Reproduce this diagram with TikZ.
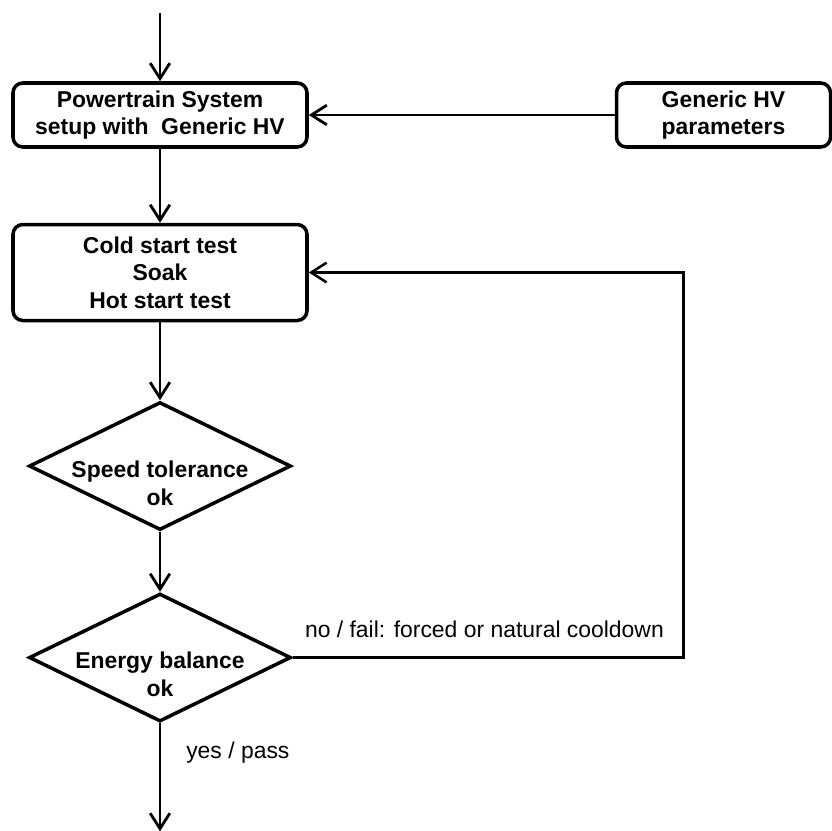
\documentclass[tikz,border=0pt]{standalone}
\usepackage{fontspec}
\setmainfont{Liberation Sans}
\usetikzlibrary{arrows.meta,shapes.geometric,positioning}

\newcommand{\dropline}{\rule{0pt}{36pt}}

\begin{document}
\begin{tikzpicture}[
    box/.style={draw, line width=2.5pt, rounded corners=7pt, minimum width=7.35cm,
                minimum height=1.6cm, align=center, font=\fontsize{16.3}{19.5}\selectfont\bfseries},
    check/.style={draw, diamond, line width=2.5pt, inner xsep=-1.5cm, inner ysep=-1.2cm,
                minimum width=6.55cm, minimum height=3.2cm, align=center,
                font=\fontsize{16.3}{20}\selectfont\bfseries},
    arr/.style={-{Straight Barb[length=11pt, width=14pt]}, line width=2pt},
    lbl/.style={inner sep=0pt, font=\fontsize{16.3}{19}\selectfont}
]
\useasboundingbox (0,0) rectangle (20.8,-20.775);

\node[box] (setup) at (4.0,-2.875) {Powertrain System\\setup with~ Generic HV};
\node[box, minimum width=5.35cm, right=7.65cm of setup] (params) {Generic HV\\parameters};
\node[box, minimum height=2.4cm, below=1.85cm of setup] (tests) {Cold start test\\Soak\\Hot start test};
\node[check, below=1.95cm of tests] (speed) {\dropline Speed tolerance\\ok};
\node[check, below=1.5cm of speed] (energy) {\dropline Energy balance\\ok};

\coordinate[above=1.7cm of setup] (start);
\coordinate[below=2.7cm of energy] (finish);
\coordinate[right=9.775cm of energy.east] (cooldown);

\draw[arr] (start) -- (setup);
\draw[arr] (params) -- (setup);
\draw[arr] (setup) -- (tests);
\draw[arr] (tests) -- (speed);
\draw[arr] (speed) -- (energy);
\draw[arr] (energy) -- (finish);
\draw[arr, line width=1.8pt] (energy.east) -- (cooldown) |- (tests.east);

\node[lbl, above right=0.48cm and 0.3cm of energy.east] (failtxt) {no / fail: forced or natural cooldown};
\node[lbl, below right=0.45cm and 0.65cm of energy.south] (passtxt) {yes / pass};
\end{tikzpicture}
\end{document}
